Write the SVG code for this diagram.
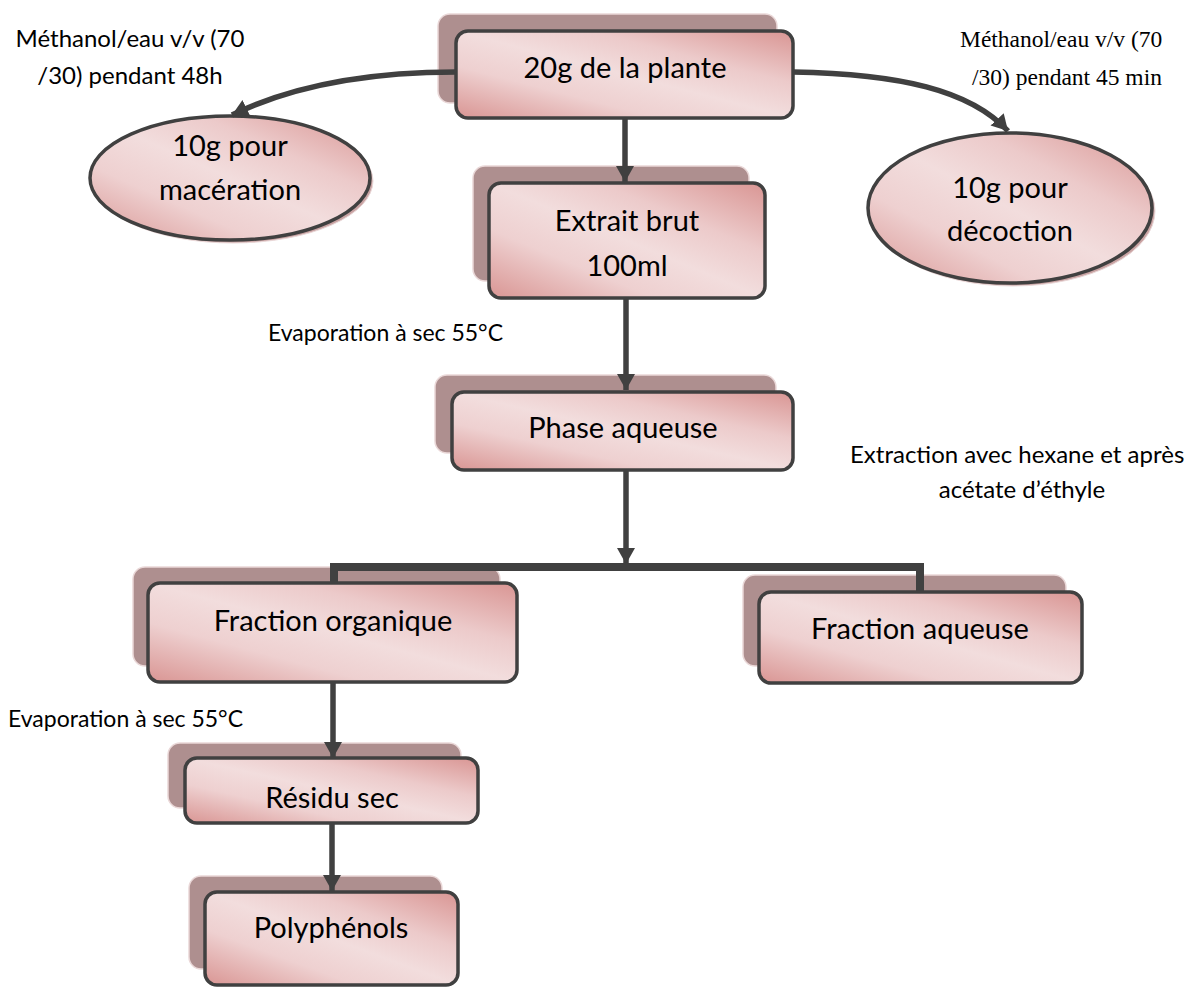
<svg xmlns="http://www.w3.org/2000/svg" width="1196" height="992" viewBox="0 0 1196 992">
<defs>
<linearGradient id="pink" x1="0" y1="1" x2="1" y2="0">
<stop offset="0" stop-color="#d99593"/>
<stop offset="0.3" stop-color="#eed0d0"/>
<stop offset="0.5" stop-color="#f2dddd"/>
<stop offset="0.7" stop-color="#eccaca"/>
<stop offset="1" stop-color="#d99593"/>
</linearGradient>
<marker id="ah" markerUnits="userSpaceOnUse" markerWidth="20" markerHeight="20" refX="16" refY="9" orient="auto">
<path d="M0,0 L16,9 L0,18 Z" fill="#404040"/>
</marker>
<style>
.shadow{fill:#ae8f8f;stroke:#ead8d8;stroke-width:1.5}
.box{fill:url(#pink);stroke:#404040;stroke-width:3.5}
.eshadow{fill:#c9a3a3;stroke:#ead8d8;stroke-width:1}
.ell{fill:url(#pink);stroke:#404040;stroke-width:3.5}
.lbl{font-family:Lato,"Liberation Sans",sans-serif;font-size:29px;fill:#000;text-anchor:middle}
.note{font-family:Lato,"Liberation Sans",sans-serif;font-size:24px;fill:#000}
.evap{font-size:23px}
.tnote{font-family:"Liberation Serif",serif;font-size:23.5px;fill:#000}
.conn{fill:none;stroke:#404040;stroke-width:5.5}
</style>
</defs>

<g id="n-plante">
<rect class="shadow" x="438" y="14" width="339" height="89" rx="12"/>
<rect class="box" x="456" y="31" width="337" height="87" rx="12"/>
<text class="lbl" x="625" y="78">20g de la plante</text>
</g>

<g id="n-maceration">
<ellipse class="eshadow" cx="233" cy="181" rx="140" ry="62"/>
<ellipse class="ell" cx="230" cy="178" rx="140" ry="62"/>
<text class="lbl" x="230" y="156">10g pour</text>
<text class="lbl" x="230" y="200">macération</text>
</g>

<g id="n-decoction">
<ellipse class="eshadow" cx="1013" cy="211" rx="142" ry="75"/>
<ellipse class="ell" cx="1010" cy="208" rx="142" ry="75"/>
<text class="lbl" x="1010" y="198">10g pour</text>
<text class="lbl" x="1010" y="241">décoction</text>
</g>

<g id="n-extrait">
<rect class="shadow" x="473" y="166" width="276" height="115" rx="12"/>
<rect class="box" x="489" y="183" width="276" height="115" rx="12"/>
<text class="lbl" x="627" y="231">Extrait brut</text>
<text class="lbl" x="627" y="276">100ml</text>
</g>

<g id="n-phase">
<rect class="shadow" x="435" y="375" width="341" height="78" rx="12"/>
<rect class="box" x="452" y="392" width="341" height="78" rx="12"/>
<text class="lbl" x="623" y="438">Phase aqueuse</text>
</g>

<g id="n-organique">
<rect class="shadow" x="133" y="567" width="367" height="99" rx="12"/>
<rect class="box" x="148" y="583" width="369" height="99" rx="12"/>
<text class="lbl" x="333" y="631">Fraction organique</text>
</g>

<g id="n-aqueuse">
<rect class="shadow" x="743" y="575" width="323" height="91" rx="12"/>
<rect class="box" x="759" y="592" width="323" height="91" rx="12"/>
<text class="lbl" x="920" y="639">Fraction aqueuse</text>
</g>

<g id="n-residu">
<rect class="shadow" x="168" y="743" width="293" height="65" rx="12"/>
<rect class="box" x="185" y="758" width="293" height="65" rx="12"/>
<text class="lbl" x="332" y="808">Résidu sec</text>
</g>

<g id="n-polyphenols">
<rect class="shadow" x="189" y="876" width="253" height="93" rx="12"/>
<rect class="box" x="205" y="892" width="253" height="93" rx="12"/>
<text class="lbl" x="331" y="938">Polyphénols</text>
</g>

<g id="connectors">
<path class="conn" d="M456,72 C380,72 300,82 232,115" marker-end="url(#ah)"/>
<path class="conn" d="M793,72 C900,74 970,90 1008,131" marker-end="url(#ah)"/>
<line class="conn" x1="625" y1="118" x2="625" y2="182" marker-end="url(#ah)"/>
<line class="conn" x1="626" y1="298" x2="626" y2="390" marker-end="url(#ah)"/>
<line class="conn" x1="626" y1="470" x2="626" y2="564" marker-end="url(#ah)"/>
<path class="conn" style="stroke-width:8" d="M334,583 L334,567 L920,567 L920,592"/>
<line class="conn" x1="333" y1="682" x2="333" y2="758" marker-end="url(#ah)"/>
<line class="conn" x1="332" y1="823" x2="332" y2="891" marker-end="url(#ah)"/>
</g>

<g id="notes">
<text class="note" x="130" y="47" text-anchor="middle">Méthanol/eau v/v (70</text>
<text class="note" x="130" y="84" text-anchor="middle">/30) pendant 48h</text>
<text class="tnote" x="960" y="47">Méthanol/eau v/v (70</text>
<text class="tnote" x="972" y="85">/30) pendant 45 min</text>
<text class="note evap" x="268" y="341">Evaporation à sec 55°C</text>
<text class="note" x="850" y="463">Extraction avec hexane et après</text>
<text class="note" x="1022" y="498" text-anchor="middle">acétate d’éthyle</text>
<text class="note evap" x="8" y="727">Evaporation à sec 55°C</text>
</g>
</svg>
